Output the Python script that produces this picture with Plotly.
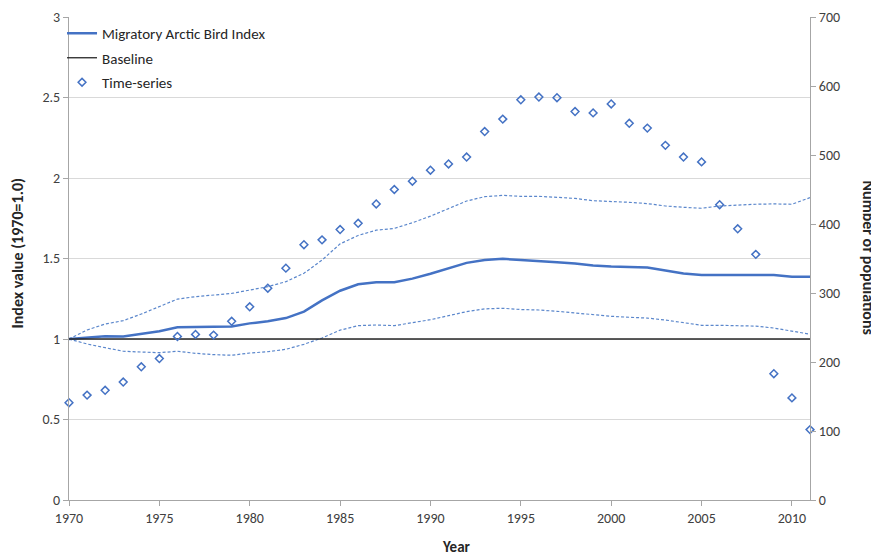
import plotly.graph_objects as go

years = list(range(1970, 2012))

index_values = [1.0, 1.01, 1.017, 1.015, 1.03, 1.048, 1.073, 1.073, 1.075, 1.077,
                1.097, 1.11, 1.13, 1.17, 1.24, 1.30, 1.34, 1.353, 1.353, 1.375,
                1.405, 1.44, 1.473, 1.49, 1.498, 1.49, 1.485, 1.477, 1.469, 1.456,
                1.45, 1.446, 1.444, 1.426, 1.407, 1.397, 1.397, 1.397, 1.397, 1.397,
                1.386, 1.386]

upper_ci = [1.0, 1.056, 1.093, 1.114, 1.155, 1.2, 1.248, 1.263, 1.273, 1.283,
            1.304, 1.325, 1.356, 1.408, 1.49, 1.591, 1.643, 1.676, 1.687, 1.722,
            1.763, 1.809, 1.857, 1.884, 1.892, 1.886, 1.886, 1.880, 1.873, 1.859,
            1.855, 1.849, 1.841, 1.826, 1.818, 1.812, 1.826, 1.833, 1.837, 1.839,
            1.837, 1.878]

lower_ci = [1.0, 0.969, 0.946, 0.924, 0.919, 0.915, 0.924, 0.911, 0.903, 0.899,
            0.913, 0.921, 0.936, 0.967, 1.006, 1.055, 1.083, 1.087, 1.083, 1.10,
            1.12, 1.145, 1.17, 1.187, 1.191, 1.183, 1.18, 1.172, 1.162, 1.149,
            1.141, 1.135, 1.13, 1.118, 1.103, 1.085, 1.085, 1.083, 1.08, 1.068,
            1.05, 1.03]

baseline_value = 1.0

time_series = [141, 152, 159, 171, 193, 205, 237, 240, 239, 259,
               280, 307, 336, 370, 377, 392, 401, 429, 450, 462,
               478, 487, 497, 534, 552, 580, 584, 583, 563, 561,
               574, 546, 539, 514, 497, 490, 428, 393, 356, 183,
               148, 102]

left_ticks = [0, 0.5, 1, 1.5, 2, 2.5, 3]
left_tick_labels = ["0", "0.5", "1", "1.5", "2", "2.5", "3"]
right_ticks = [0, 100, 200, 300, 400, 500, 600, 700]
x_ticks = [1970, 1975, 1980, 1985, 1990, 1995, 2000, 2005, 2010]

FONT = "Carlito, Lato, sans-serif"
BLUE = "#4472C4"
CI_BLUE = "#5B87CC"
GRID = "#D9D9D9"
AXIS = "#A6A6A6"
SIDE_TITLE_FONT = dict(family=FONT, size=16, color="#262626")
X_TITLE_FONT = dict(family=FONT, size=15, color="#262626")

fig = go.Figure()

fig.add_trace(go.Scatter(x=years, y=upper_ci, mode="lines", showlegend=False,
                         line=dict(color=CI_BLUE, width=1.2, dash="3px,2px"),
                         hoverinfo="skip"))
fig.add_trace(go.Scatter(x=years, y=lower_ci, mode="lines", showlegend=False,
                         line=dict(color=CI_BLUE, width=1.2, dash="3px,2px"),
                         hoverinfo="skip"))
fig.add_trace(go.Scatter(x=years, y=index_values, mode="lines",
                         name="Migratory Arctic Bird Index", legendgroup="a",
                         line=dict(color=BLUE, width=2.5)))
fig.add_trace(go.Scatter(x=[years[0], years[-1]], y=[baseline_value, baseline_value],
                         mode="lines", name="Baseline", legendgroup="b",
                         line=dict(color="#262626", width=1.3)))
fig.add_trace(go.Scatter(x=years, y=time_series, mode="markers", name="Time-series",
                         legendgroup="c", yaxis="y2", cliponaxis=False,
                         marker=dict(symbol="diamond-open", size=6, color=BLUE,
                                     line=dict(width=1.5, color=BLUE))))

# page body has an 8px margin, so the figure is sized/offset to compensate
fig.update_layout(
    width=871, height=547,
    margin=dict(l=61, r=69, t=9, b=55, autoexpand=False),
    paper_bgcolor="white", plot_bgcolor="white",
    font=dict(family=FONT, size=14, color="#404040"),
    showlegend=True,
    legend=dict(x=-0.0094, y=1.0, xanchor="left", yanchor="top",
                xref="paper", yref="paper",
                bgcolor="rgba(0,0,0,0)", font=dict(size=15, color="#262626"),
                tracegroupgap=2, traceorder="grouped", itemwidth=30),
    xaxis=dict(range=[1970, 2011], tickmode="array", tickvals=x_ticks,
               ticktext=[str(v) for v in x_ticks], automargin=False,
               showgrid=False, zeroline=False, showline=True, linecolor=AXIS,
               linewidth=1, ticks="outside", ticklen=5, tickcolor=AXIS,
               tickfont=dict(size=14, color="#404040")),
    yaxis=dict(range=[0, 3], tickmode="array", tickvals=left_ticks,
               ticktext=left_tick_labels, showgrid=True, gridcolor=GRID,
               automargin=False,
               gridwidth=1, zeroline=False, showline=True, linecolor=AXIS,
               ticks="outside", ticklen=5, tickcolor=AXIS,
               tickfont=dict(size=14, color="#404040")),
    yaxis2=dict(range=[0, 700], tickmode="array", tickvals=right_ticks,
                overlaying="y", side="right", showgrid=False, zeroline=False,
                automargin=False,
                showline=True, linecolor=AXIS, ticks="outside", ticklen=5,
                tickcolor=AXIS, tickfont=dict(size=14, color="#404040")),
    annotations=[
        dict(text="<b>Number of populations</b>", xref="paper", yref="paper",
             x=1.0, y=0.5, xanchor="center", yanchor="middle",
             xshift=58, yshift=1, textangle=90, showarrow=False,
             font=SIDE_TITLE_FONT),
        dict(text="<b>Index value (1970=1.0)</b>", xref="paper", yref="paper",
             x=0.0, y=0.5, xanchor="center", yanchor="middle",
             xshift=-52, yshift=5, textangle=-90, showarrow=False,
             font=SIDE_TITLE_FONT),
        dict(text="<b>Year</b>", xref="paper", yref="paper",
             x=0.5, y=0.0, xanchor="center", yanchor="middle",
             xshift=17, yshift=-47, showarrow=False, font=X_TITLE_FONT),
    ],
)

fig.write_html("out.html")
